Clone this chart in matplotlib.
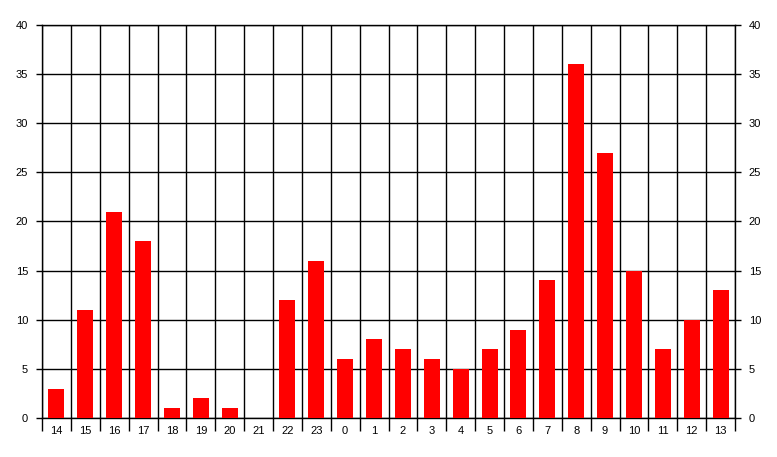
import numpy as np
import matplotlib.pyplot as plt

hours = ['14', '15', '16', '17', '18', '19', '20', '21', '22', '23', '0', '1',
         '2', '3', '4', '5', '6', '7', '8', '9', '10', '11', '12', '13']
counts = [3, 11, 21, 18, 1, 2, 1, 0, 12, 16, 6, 8,
          7, 6, 5, 7, 9, 14, 36, 27, 15, 7, 10, 13]
y_ticks = [0, 5, 10, 15, 20, 25, 30, 35, 40]

plt.rcParams['font.family'] = ['Liberation Sans', 'DejaVu Sans']

fig = plt.figure(figsize=(7.77, 4.57), dpi=100)
ax = fig.add_axes([42 / 777, 1 - 418 / 457, 693 / 777, 393 / 457])

x = np.arange(len(hours))
ax.bar(x, counts, width=0.55, color='#ff0000', zorder=3)

ax.set_xlim(-0.5, len(hours) - 0.5)
ax.set_ylim(0, 40)

# category labels at centres, tick marks + grid on the boundaries
ax.set_xticks(x)
ax.set_xticklabels(hours, fontsize=8)
ax.set_xticks(np.arange(-0.5, len(hours)), minor=True)
ax.tick_params(axis='x', which='major', length=0, pad=6)
ax.tick_params(axis='x', which='minor', length=9, width=1, color='black')
ax.grid(True, axis='x', which='minor', color='black', linewidth=1, zorder=1)

ax.set_yticks(y_ticks)
ax.tick_params(axis='y', which='major', length=4, width=1, labelsize=8,
               left=True, right=True, labelleft=True, labelright=True, pad=6)
ax.grid(True, axis='y', which='major', color='black', linewidth=1, zorder=1)

for s in ax.spines.values():
    s.set_color('black')
    s.set_linewidth(1)

fig.savefig('out.png', dpi=100)
